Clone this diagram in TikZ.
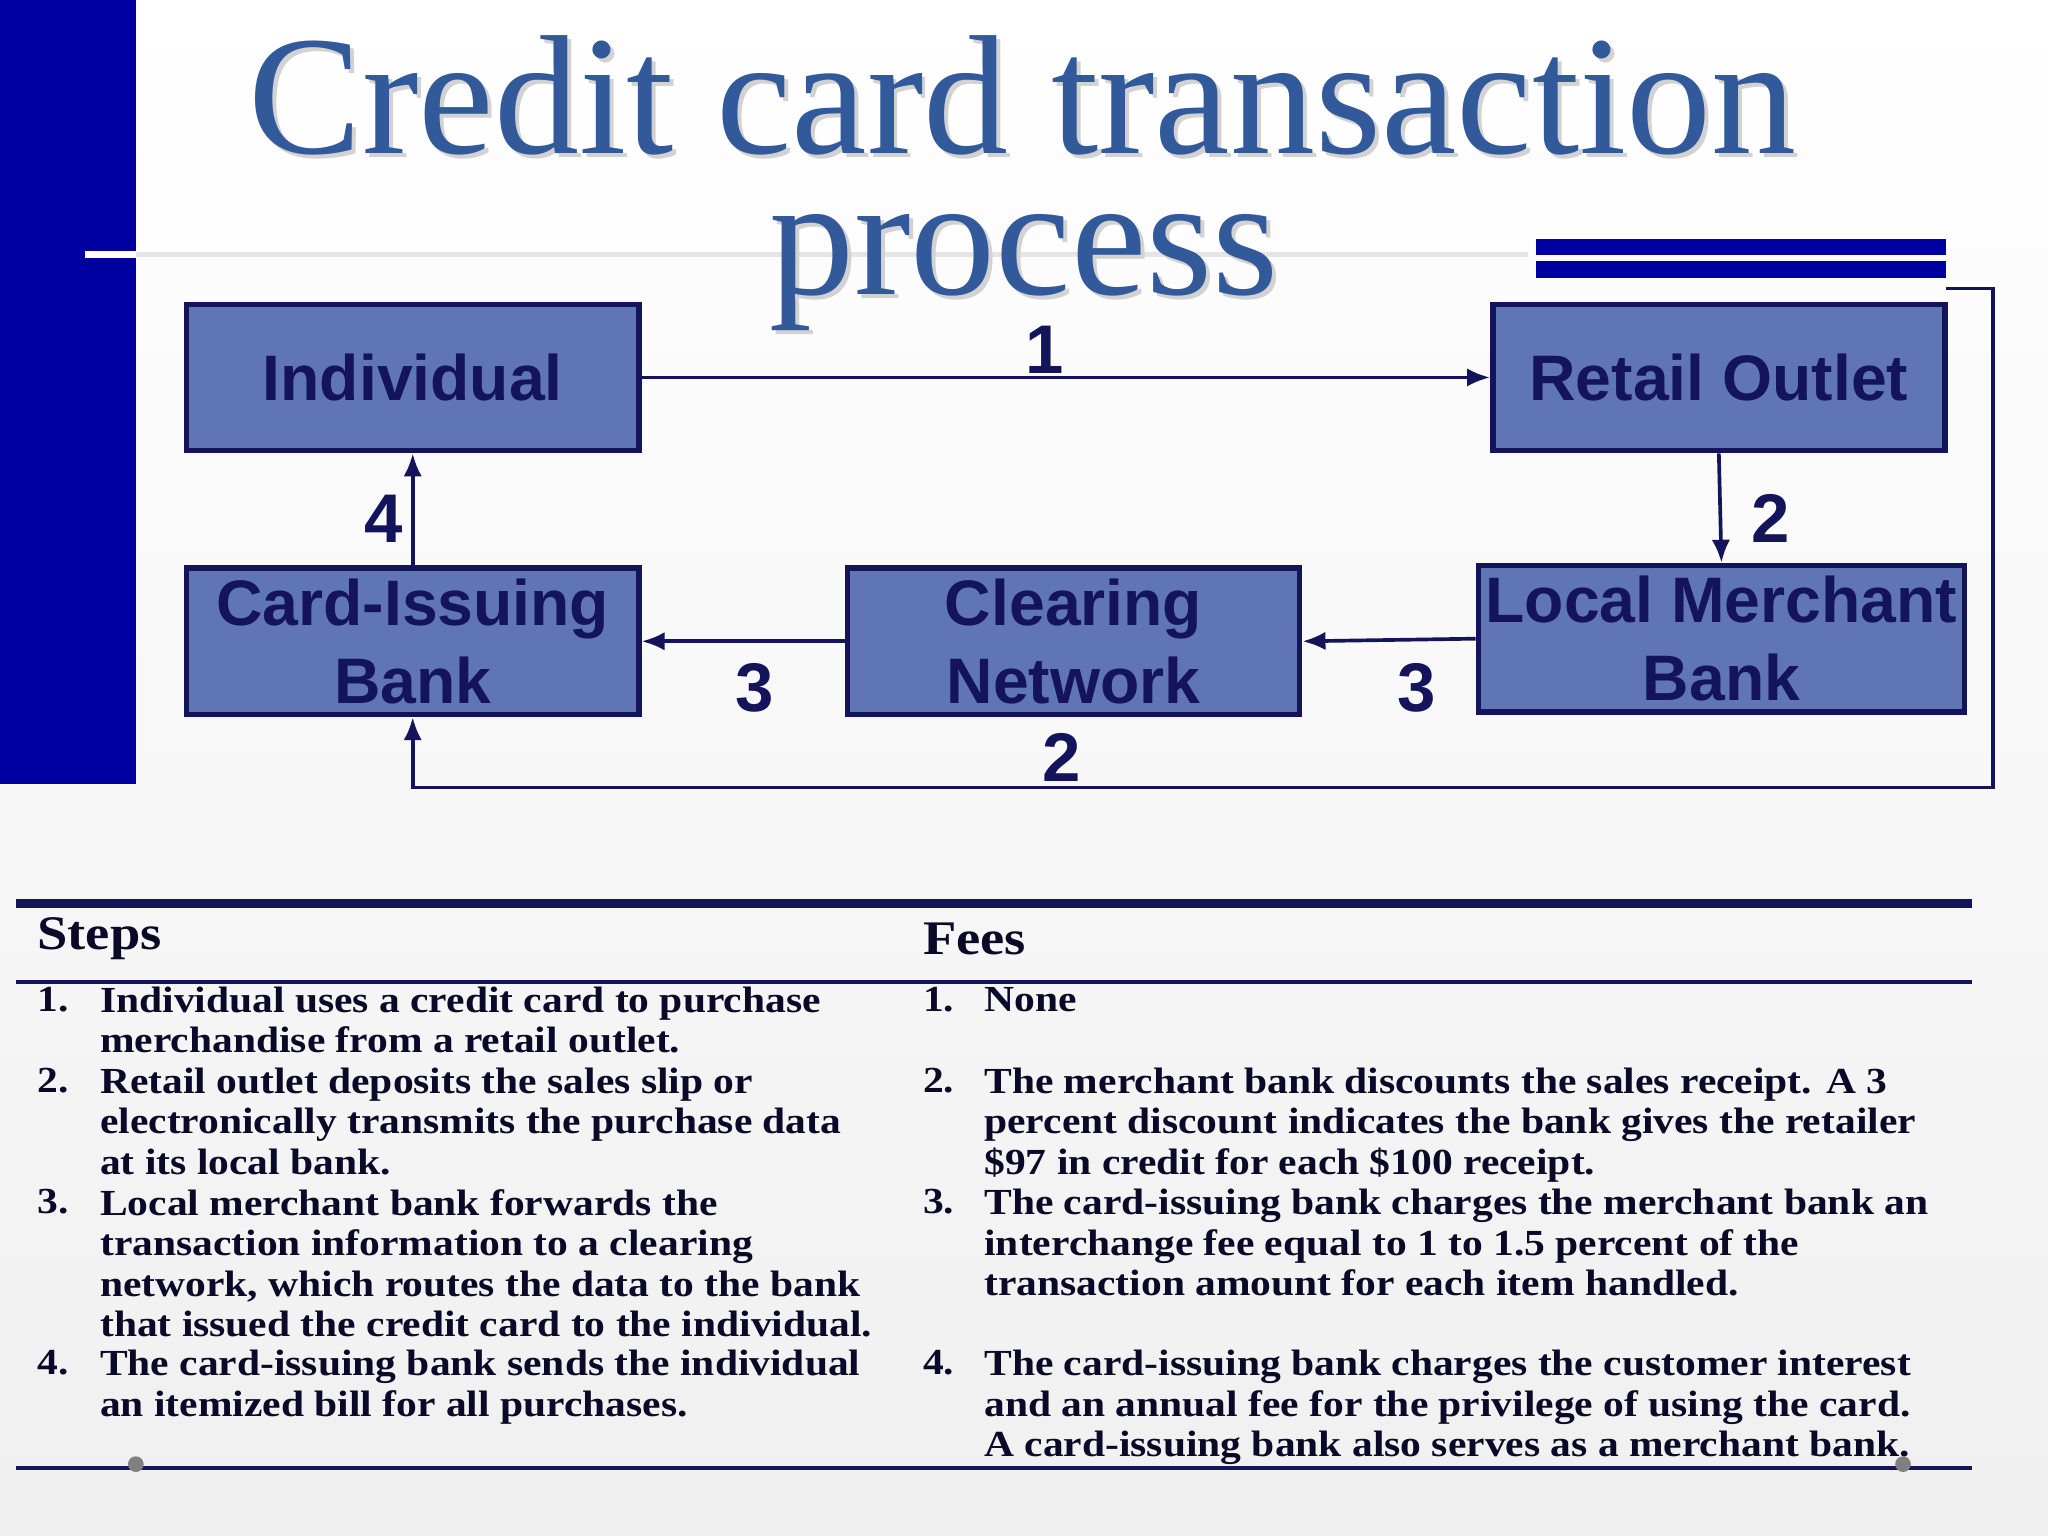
\documentclass[tikz,border=0pt]{standalone}
\usepackage{fontspec}
\setmainfont{Liberation Serif}
\setsansfont{Liberation Sans}
\newfontfamily\tabfont[FakeStretch=1.13]{Liberation Serif}
\usetikzlibrary{arrows.meta}
\definecolor{barblue}{RGB}{0,0,160}
\definecolor{boxfill}{RGB}{96,118,180}
\definecolor{navy}{RGB}{20,20,90}
\definecolor{titleblue}{RGB}{50,90,155}
\definecolor{txt}{RGB}{10,10,40}
\tikzset{
 box/.style={draw=navy,line width=1.2pt,fill=boxfill,minimum width=3.46cm,minimum height=1.12cm,align=center,font=\sffamily\bfseries\fontsize{14}{17}\selectfont,text=navy,inner sep=0pt},
 arr/.style={navy,line width=0.8pt,-{Latex[length=5pt,width=4pt]}},
 num/.style={font=\sffamily\bfseries\fontsize{15}{17}\selectfont,text=navy},
 tl/.style={anchor=north west,font=\tabfont\bfseries\fontsize{8}{8.8}\selectfont,text=txt,inner sep=0pt,align=left},
 hd/.style={anchor=west,font=\tabfont\bfseries\fontsize{10.5}{12}\selectfont,text=txt,inner sep=0pt},
 ttl/.style={font=\fontsize{37}{38}\selectfont,inner sep=0pt}
}
\begin{document}
\begin{tikzpicture}[x=0.01cm,y=-0.01cm]
\shade[top color=white,bottom color=gray!12] (0,0) rectangle (1568,1176);
\useasboundingbox (0,0) rectangle (1568,1176);
\fill[barblue] (0,0) rectangle (104,600);
\draw[gray!20,line width=1pt] (65,195) -- (1170,195);
\draw[white,line width=1.5pt] (65,195) -- (104,195);
\fill[barblue] (1176,183) rectangle (1490,195);
\fill[barblue] (1176,200) rectangle (1490,213);
\node[ttl,text=gray!35] at (786,76) {Credit card transaction};
\node[ttl,text=titleblue] (t1) at (783,73) {Credit card transaction};
\node[ttl,text=gray!35] at (787,212) {process};
\node[ttl,text=titleblue] (t2) at (784,209) {process};
\node[box] (ind) at (316,289) {Individual};
\node[box] (ret) at (1316,289) {Retail Outlet};
\node[box] (cib) at (316,491) {Card-Issuing\\Bank};
\node[box] (cn) at (822,491) {Clearing\\Network};
\node[box,minimum width=3.72cm] (lmb) at (1318,489) {Local Merchant\\Bank};
\draw[arr] (ind.east) -- (ret.west);
\node[num] at (800,268) {1};
\draw[arr] (ret.south) -- (lmb.north);
\node[num] at (1356,397) {2};
\draw[arr] (lmb.west) -- (cn.east);
\node[num] at (1085,527) {3};
\draw[arr] (cn.west) -- (cib.east);
\node[num] at (578,527) {3};
\draw[arr] (cib.north) -- (ind.south);
\node[num] at (294,397) {4};
\coordinate (c0) at (1490,221);
\draw[arr] (c0) -- (1526,221) -- (1526,603) -- (316,603) -- (cib.south);
\node[num] at (813,580) {2};
% table
\draw[navy,line width=2pt] (12,692) -- (1510,692);
\draw[navy,line width=0.8pt] (12,752) -- (1510,752);
\draw[navy,line width=0.8pt] (12,1124) -- (1510,1124);
\node[hd] at (28,719) {Steps};
\node[hd] at (706,719) {Fees};
\foreach \n/\y in {1/755,2/817,3/910,4/1033}{\node[tl] at (28,\y) {\n.};}
\foreach \n/\y in {1/755,2/817,3/910,4/1033}{\node[tl] at (706,\y) {\n.};}
\node[tl] at (76,755) {Individual uses a credit card to purchase\\merchandise from a retail outlet.};
\node[tl] at (76,817) {Retail outlet deposits the sales slip or\\electronically transmits the purchase data\\at its local bank.};
\node[tl] at (76,910) {Local merchant bank forwards the\\transaction information to a clearing\\network, which routes the data to the bank\\that issued the credit card to the individual.};
\node[tl] at (76,1033) {The card-issuing bank sends the individual\\an itemized bill for all purchases.};
\node[tl] at (753,755) {None};
\node[tl] at (753,817) {The merchant bank discounts the sales receipt. A 3\\percent discount indicates the bank gives the retailer\\\$97 in credit for each \$100 receipt.};
\node[tl] at (753,910) {The card-issuing bank charges the merchant bank an\\interchange fee equal to 1 to 1.5 percent of the\\transaction amount for each item handled.};
\node[tl] at (753,1033) {The card-issuing bank charges the customer interest\\and an annual fee for the privilege of using the card.\\A card-issuing bank also serves as a merchant bank.};
\fill[gray] (104,1121) circle (6);
\fill[gray] (1457,1121) circle (6);
\end{tikzpicture}
\end{document}
